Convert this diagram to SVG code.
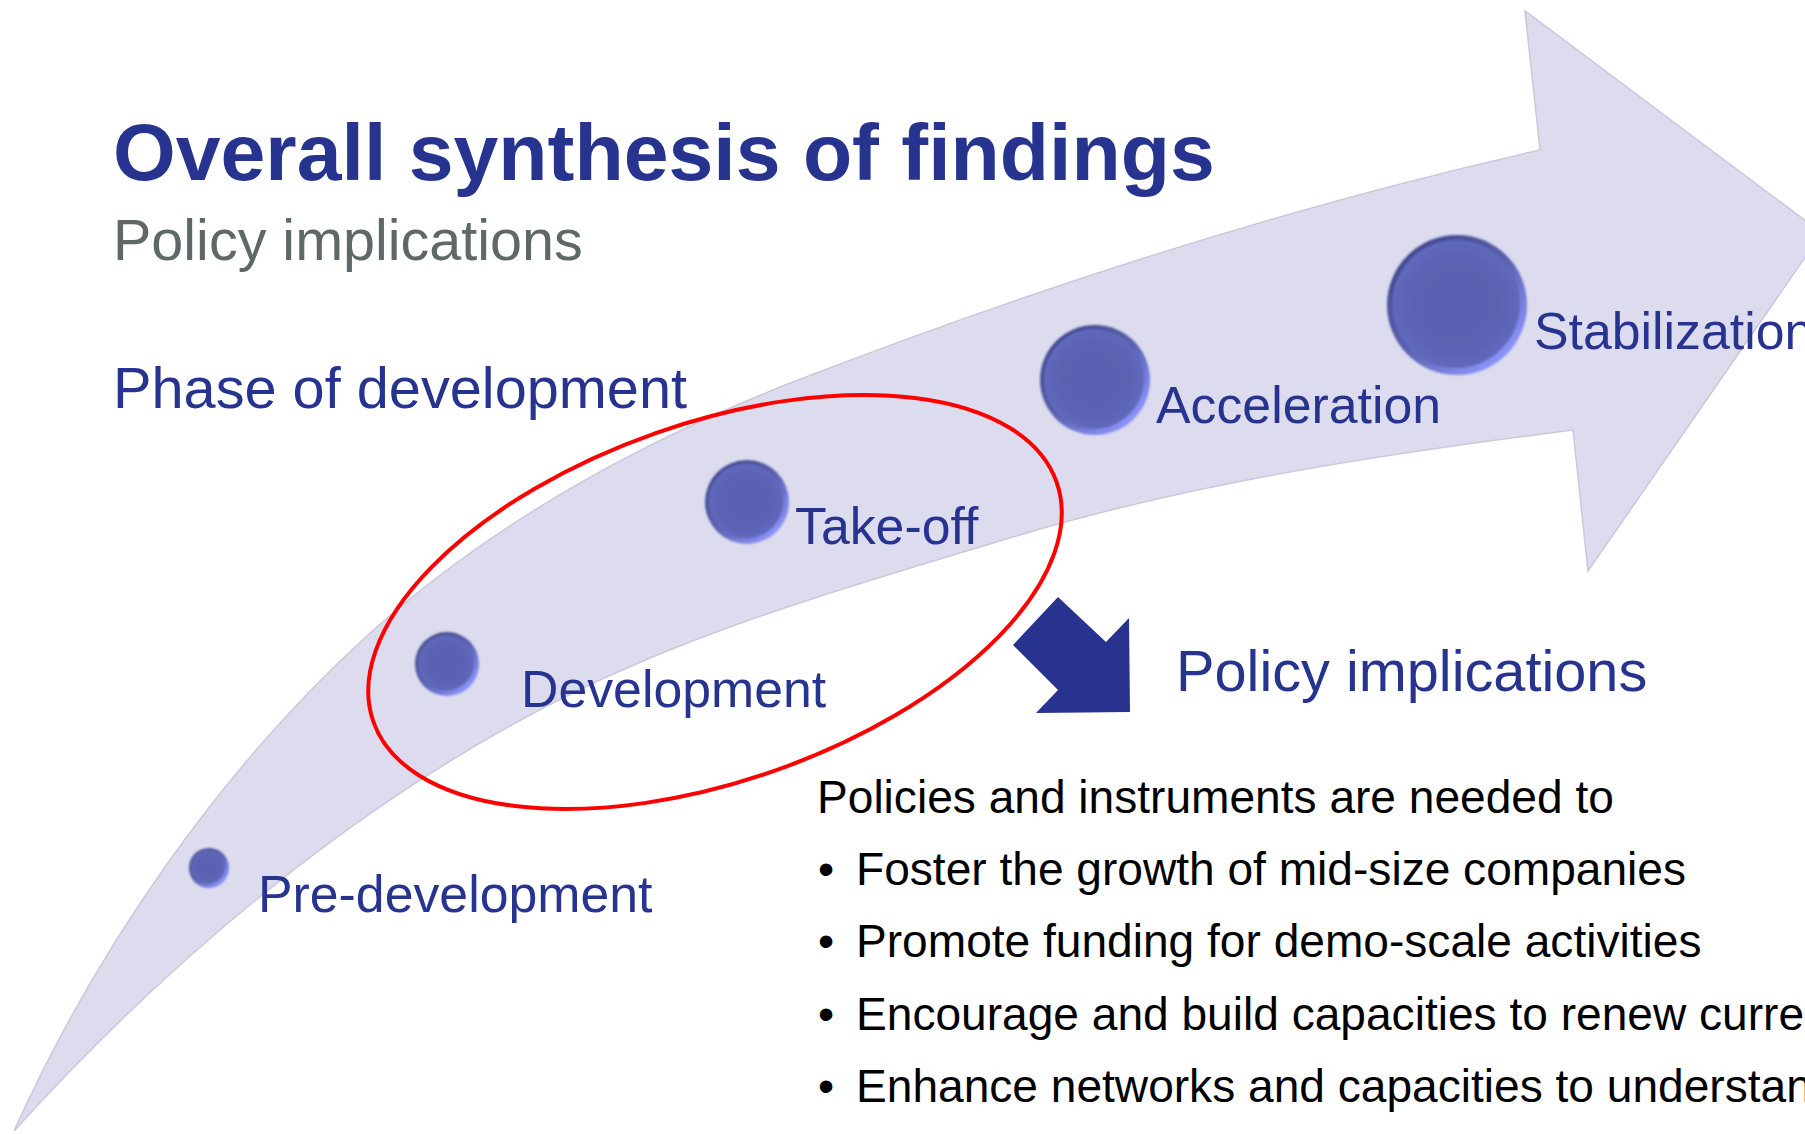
<svg xmlns="http://www.w3.org/2000/svg" width="1805" height="1134" viewBox="0 0 1805 1134">
<style>
  text { font-family: "Liberation Sans", Arial, sans-serif; }
  .title { font-size: 80.6px; font-weight: bold; fill: #27348f; }
  .sub { font-size: 57.5px; fill: #5f6868; }
  .head { font-size: 57.7px; fill: #27348f; }
  .lbl { font-size: 51.8px; fill: #27348f; }
  .body { font-size: 46.1px; fill: #000000; }
  .band { fill: #dcdcee; stroke: #c9c9dd; stroke-width: 1.5; }
  .ring { fill: none; stroke: #ff0000; stroke-width: 4; }
  .bigarrow { fill: #27338f; }
  .sph-out { fill: url(#sphEdge); }
  .sph-in { fill: url(#sphBody); }
</style>
<defs>
  <linearGradient id="sphEdge" x1="0.15" y1="0.1" x2="0.85" y2="0.9">
    <stop offset="0" stop-color="#41478c"/>
    <stop offset="0.5" stop-color="#5a61b0"/>
    <stop offset="1" stop-color="#8f97ff"/>
  </linearGradient>
  <radialGradient id="sphBody" cx="0.5" cy="0.5" r="0.5">
    <stop offset="0" stop-color="#5a61b1"/>
    <stop offset="0.7" stop-color="#5b62b3"/>
    <stop offset="1" stop-color="#6068bb"/>
  </radialGradient>
  <filter id="soft" x="-10%" y="-10%" width="120%" height="120%">
    <feGaussianBlur stdDeviation="0.9"/>
  </filter>
</defs>

<g id="growth-arrow">
  <path class="band" d="M 14 1131 C 96 949 221 768 369 634 C 492 523 644 440 798 380 C 1039 287 1287 207 1540 150 L 1525 11 L 1822 233 L 1588 571 L 1573 430 C 1385 454 1195 482 1013 537 C 855 585 693 630 547 706 C 346 811 166 963 14 1131 Z"/>
</g>

<g id="title">
  <text class="title" x="113" y="180">Overall synthesis of findings</text>
</g>
<g id="subtitle">
  <text class="sub" x="113" y="260">Policy implications</text>
</g>
<g id="phase-heading">
  <text class="head" x="113" y="408">Phase of development</text>
</g>

<g id="phase-pre-development">
  <g filter="url(#soft)">
    <circle class="sph-out" cx="209" cy="868" r="20"/>
    <circle class="sph-in" cx="208" cy="867" r="17"/>
  </g>
  <text class="lbl" x="258" y="912">Pre-development</text>
</g>
<g id="phase-development">
  <g filter="url(#soft)">
    <circle class="sph-out" cx="447" cy="664" r="32"/>
    <circle class="sph-in" cx="446" cy="663" r="28"/>
  </g>
  <text class="lbl" x="521" y="707">Development</text>
</g>
<g id="phase-take-off">
  <g filter="url(#soft)">
    <circle class="sph-out" cx="747" cy="502" r="42"/>
    <circle class="sph-in" cx="746" cy="501" r="37.5"/>
  </g>
  <text class="lbl" x="795" y="544">Take-off</text>
</g>
<g id="phase-acceleration">
  <g filter="url(#soft)">
    <circle class="sph-out" cx="1095" cy="380" r="55"/>
    <circle class="sph-in" cx="1094" cy="379" r="50"/>
  </g>
  <text class="lbl" x="1156" y="423">Acceleration</text>
</g>
<g id="phase-stabilization">
  <g filter="url(#soft)">
    <circle class="sph-out" cx="1457" cy="305" r="70"/>
    <circle class="sph-in" cx="1456" cy="304" r="64"/>
  </g>
  <text class="lbl" x="1534" y="349">Stabilization</text>
</g>

<g id="highlight-ellipse">
  <ellipse class="ring" cx="715" cy="602" rx="362" ry="179" transform="rotate(-19.3 715 602)"/>
</g>

<g id="connectors">
  <polygon class="bigarrow" points="1058,597 1106,642 1129,618 1130,712 1036,713 1058,690 1013,645"/>
</g>

<g id="policy-heading">
  <text class="head" x="1176" y="691">Policy implications</text>
</g>

<g id="policy-list">
  <text class="body" x="817" y="813">Policies and instruments are needed to</text>
  <text class="body" x="818" y="885">•</text>
  <text class="body" x="856" y="885">Foster the growth of mid-size companies</text>
  <text class="body" x="818" y="957">•</text>
  <text class="body" x="856" y="957">Promote funding for demo-scale activities</text>
  <text class="body" x="818" y="1030">•</text>
  <text class="body" x="856" y="1030">Encourage and build capacities to renew curre</text>
  <text class="body" x="818" y="1102">•</text>
  <text class="body" x="856" y="1102">Enhance networks and capacities to understan</text>
</g>
</svg>
